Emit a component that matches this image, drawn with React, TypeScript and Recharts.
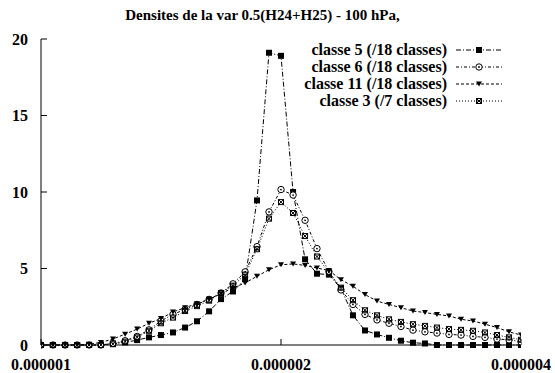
import React from 'react'
import { LineChart, Line, XAxis, YAxis } from 'recharts'

// x positions in units of 1e-6 (log spaced grid)
const xMicro = [
  1.0, 1.035, 1.072, 1.11, 1.149, 1.189, 1.231, 1.275, 1.32, 1.366, 1.414,
  1.464, 1.516, 1.569, 1.625, 1.682, 1.741, 1.803, 1.866, 1.932, 2.0, 2.071,
  2.144, 2.219, 2.297, 2.378, 2.462, 2.549, 2.639, 2.732, 2.828, 2.928, 3.031,
  3.138, 3.249, 3.364, 3.482, 3.605, 3.732, 3.864, 4.0,
]
const classe5 = [
  0, 0, 0, 0, 0, 0, 0.1, 0.17, 0.32, 0.5, 0.65, 0.82, 1.14, 1.55, 2.2, 3.0,
  3.5, 4.3, 9.45, 19.1, 18.9, 10.0, 5.6, 4.66, 4.6, 3.7, 1.94, 0.95, 0.69, 0.47,
  0.28, 0.15, 0.1, 0, 0, 0, 0, 0, 0, 0, 0,
]
const classe6 = [
  0, 0, 0, 0, 0, 0, 0.1, 0.28, 0.56, 0.99, 1.57, 2.0, 2.33, 2.65, 2.98, 3.4,
  4.0, 4.78, 6.43, 8.7, 10.16, 9.8, 8.15, 6.3, 4.8, 3.6, 2.65, 2.0, 1.64, 1.42,
  1.21, 0.97, 0.86, 0.78, 0.69, 0.65, 0.56, 0.5, 0.39, 0.34, 0.21,
]
const classe11 = [
  0, 0, 0, 0, 0.05, 0.17, 0.39, 0.71, 1.04, 1.42, 1.73, 2.16, 2.44, 2.7, 3.0,
  3.35, 3.73, 4.06, 4.49, 4.92, 5.24, 5.3, 5.2, 5.03, 4.87, 4.27, 3.84, 3.3,
  2.87, 2.65, 2.44, 2.22, 2.12, 2.0, 1.9, 1.68, 1.57, 1.36, 1.14, 0.86, 0.65,
]
const classe3 = [
  0, 0, 0, 0, 0, 0, 0.05, 0.22, 0.5, 0.93, 1.42, 1.79, 2.22, 2.54, 2.9, 3.4,
  3.88, 4.6, 6.26, 8.26, 9.34, 8.63, 7.12, 5.78, 4.75, 3.75, 2.93, 2.27, 1.94,
  1.68, 1.51, 1.36, 1.25, 1.14, 1.04, 0.99, 0.93, 0.82, 0.65, 0.5, 0.34,
]
const xTicks = [1, 2, 4]
const yTicks = [0, 5, 10, 15, 20]
const title = 'Densites de la var 0.5(H24+H25) - 100 hPa,'

const data = xMicro.map((x, i) => ({
  x,
  c5: classe5[i],
  c6: classe6[i],
  c11: classe11[i],
  c3: classe3[i],
}))

type Shape = 'square' | 'circle' | 'triangle' | 'star'

const series: { key: string; name: string; dash: string; shape: Shape }[] = [
  { key: 'c5', name: 'classe 5 (/18 classes)', dash: '5 2 1 2', shape: 'square' },
  { key: 'c6', name: 'classe 6 (/18 classes)', dash: '3 2 1 2', shape: 'circle' },
  { key: 'c11', name: 'classe 11 (/18 classes)', dash: '3 2', shape: 'triangle' },
  { key: 'c3', name: 'classe 3 (/7 classes)', dash: '1 2', shape: 'star' },
]

const font = '"Liberation Serif", "Times New Roman", serif'

const Marker = ({ cx, cy, shape }: { cx: number; cy: number; shape: Shape }) => {
  if (shape === 'square')
    return <rect x={cx - 3} y={cy - 3} width={6} height={6} fill="#000" />
  if (shape === 'circle')
    return (
      <g>
        <circle cx={cx} cy={cy} r={3.2} fill="#fff" stroke="#000" strokeWidth={1} />
        <circle cx={cx} cy={cy} r={0.9} fill="#000" />
      </g>
    )
  if (shape === 'triangle')
    return (
      <path
        d={`M${cx - 3},${cy - 2.5}L${cx + 3},${cy - 2.5}L${cx},${cy + 2.5}Z`}
        fill="#000"
      />
    )
  return (
    <g stroke="#000" strokeWidth={1} fill="none">
      <rect x={cx - 2.5} y={cy - 2.5} width={5} height={5} />
      <path d={`M${cx - 2.5},${cy - 2.5}L${cx + 2.5},${cy + 2.5}M${cx + 2.5},${cy - 2.5}L${cx - 2.5},${cy + 2.5}`} />
    </g>
  )
}

const tickStyle = { fontFamily: font, fontSize: 16, fontWeight: 'bold', fill: '#000' }
const blank = () => ''

export default function App() {
  const rowY = [50, 67, 84, 101]
  return (
    <div
      style={{
        position: 'absolute',
        left: 0,
        top: 0,
        width: 555,
        height: 373,
        background: '#fff',
      }}
    >
      <LineChart
        width={555}
        height={373}
        data={data}
        margin={{ top: 39, right: 34, bottom: 0, left: 0 }}
      >
        <XAxis
          dataKey="x"
          type="number"
          scale="log"
          domain={[1, 4]}
          ticks={xTicks}
          allowDataOverflow
          height={28}
          tickSize={-6}
          tickMargin={20}
          stroke="#000"
          tick={tickStyle}
          tickFormatter={(v: number) => (v * 1e-6).toFixed(6)}
        />
        <XAxis
          xAxisId="top"
          orientation="top"
          dataKey="x"
          type="number"
          scale="log"
          domain={[1, 4]}
          ticks={xTicks}
          allowDataOverflow
          height={0}
          tickSize={-6}
          tick={tickStyle}
          tickFormatter={blank}
          stroke="#000"
        />
        <YAxis
          type="number"
          domain={[0, 20]}
          ticks={yTicks}
          width={41}
          tickSize={-6}
          tickMargin={19}
          stroke="#000"
          tick={tickStyle}
        />
        <YAxis
          yAxisId="right"
          orientation="right"
          type="number"
          domain={[0, 20]}
          ticks={yTicks}
          width={0}
          tickSize={-6}
          tick={tickStyle}
          tickFormatter={blank}
          stroke="#000"
        />
        {series.map((s) => (
          <Line
            key={s.key}
            dataKey={s.key}
            type="linear"
            stroke="#000"
            strokeWidth={1}
            strokeDasharray={s.dash}
            isAnimationActive={false}
            activeDot={false}
            dot={(p: any) => (
              <Marker key={`${s.key}-${p.index}`} cx={p.cx} cy={p.cy} shape={s.shape} />
            )}
          />
        ))}
      </LineChart>
      <div
        style={{
          position: 'absolute',
          left: 0,
          top: 6,
          width: 525,
          textAlign: 'center',
          fontFamily: font,
          fontWeight: 'bold',
          fontSize: 15,
          lineHeight: '18px',
        }}
      >
        {title}
      </div>
      {series.map((s, i) => (
        <React.Fragment key={s.key}>
          <div
            style={{
              position: 'absolute',
              left: 247,
              width: 200,
              top: rowY[i] - 9,
              textAlign: 'right',
              fontFamily: font,
              fontWeight: 'bold',
              fontSize: 16,
              lineHeight: '18px',
              whiteSpace: 'nowrap',
            }}
          >
            {s.name}
          </div>
          <svg
            width={48}
            height={10}
            style={{ position: 'absolute', left: 455, top: rowY[i] - 5 }}
          >
            <line x1={1} y1={5} x2={47} y2={5} stroke="#000" strokeWidth={1} strokeDasharray={s.dash} />
            <Marker cx={24} cy={5} shape={s.shape} />
          </svg>
        </React.Fragment>
      ))}
    </div>
  )
}
